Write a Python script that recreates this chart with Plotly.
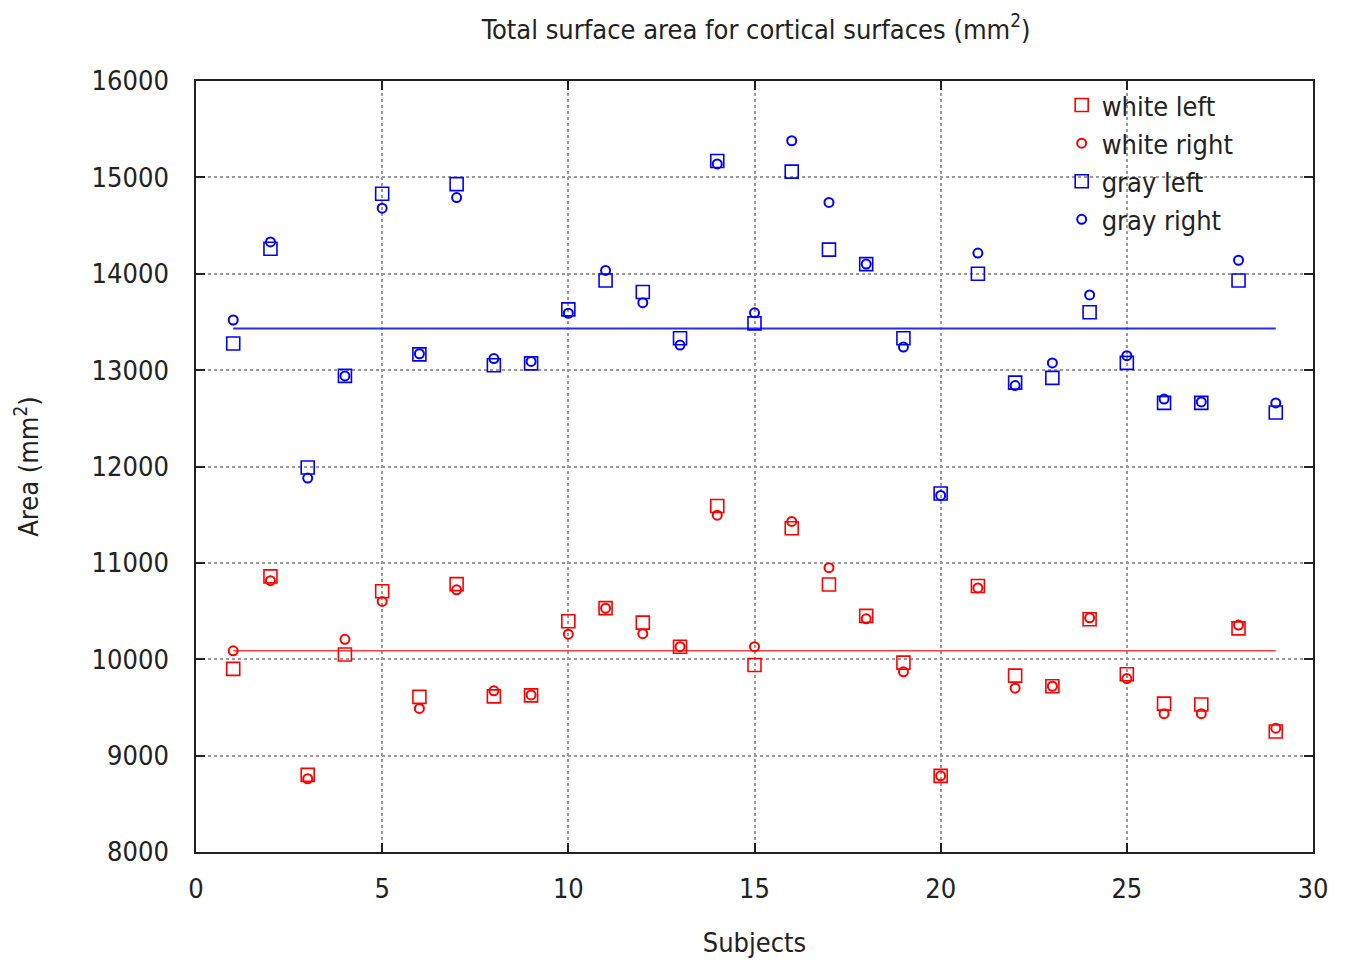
import plotly.graph_objects as go

subjects = list(range(1, 30))

white_left = [9900, 10860, 8800, 10050, 10705, 9610, 10780, 9615, 9625, 10395,
              10530, 10380, 10130, 11590, 9940, 11360, 10775, 10450, 9965, 8790,
              10760, 9830, 9720, 10415, 9845, 9540, 9530, 10320, 9250]
white_right = [10087, 10815, 8760, 10207, 10600, 9490, 10720, 9672, 9630, 10260,
               10530, 10265, 10130, 11495, 10130, 11430, 10950, 10420, 9870, 8790,
               10740, 9700, 9720, 10430, 9800, 9435, 9435, 10355, 9285]
gray_left = [13277, 14260, 11990, 12940, 14830, 13163, 14930, 13050, 13070, 13630,
             13930, 13810, 13330, 15170, 13485, 15060, 14250, 14100, 13330, 11720,
             14000, 12870, 12920, 13600, 13075, 12660, 12660, 13930, 12560]
gray_right = [13520, 14330, 11880, 12940, 14680, 13170, 14790, 13120, 13090, 13590,
              14035, 13700, 13260, 15140, 13595, 15380, 14740, 14100, 13240, 11700,
              14215, 12840, 13075, 13780, 13150, 12700, 12670, 14140, 12660]

mean_white = 10087
mean_gray = 13433
mean_x = [1, 29]

x_ticks = [0, 5, 10, 15, 20, 25, 30]
y_ticks = [8000, 9000, 10000, 11000, 12000, 13000, 14000, 15000, 16000]
y_tick_text = ["8000", "9000", "10000", "11000", "12000", "13000", "14000", "15000", "16000"]

RED = "#ff0000"
BLUE = "#0000ff"
FONT = "DejaVu Sans Condensed, DejaVu Sans"
TXT = "#222222"

fig = go.Figure()

fig.add_trace(go.Scatter(x=mean_x, y=[mean_gray, mean_gray], mode="lines",
                         line=dict(color="#2a2aff", width=2), showlegend=False,
                         hoverinfo="skip"))
fig.add_trace(go.Scatter(x=mean_x, y=[mean_white, mean_white], mode="lines",
                         line=dict(color="#ff4040", width=1.5), showlegend=False,
                         hoverinfo="skip"))

def add(name, ys, color, symbol, size, lw):
    fig.add_trace(go.Scatter(x=subjects, y=ys, mode="markers", name=name,
                             marker=dict(symbol=symbol, size=size, color=color,
                                         line=dict(color=color, width=lw))))

add("white left", white_left, RED, "square-open", 13, 1.6)
add("white right", white_right, RED, "circle-open", 9, 2)
add("gray left", gray_left, BLUE, "square-open", 13, 1.6)
add("gray right", gray_right, BLUE, "circle-open", 9, 2)

axis_common = dict(
    showline=True, linecolor=TXT, linewidth=1.5, mirror="ticks",
    ticks="inside", ticklen=9, tickwidth=1.5, tickcolor=TXT,
    showgrid=True, gridcolor="#9a9a9a", griddash="dot", gridwidth=1.5,
    zeroline=False, tickfont=dict(family=FONT, size=27, color=TXT),
)

fig.update_xaxes(range=[0, 30], tickvals=x_ticks, ticklabelstandoff=12, **axis_common,
                 title=dict(text="Subjects", font=dict(family=FONT, size=27, color=TXT),
                            standoff=30))
fig.update_yaxes(range=[8000, 16000], tickvals=y_ticks, ticktext=y_tick_text,
                 ticklabelstandoff=20, **axis_common,
                 title=dict(text="Area (mm<sup>2</sup>)", font=dict(family=FONT, size=27, color=TXT),
                            standoff=45))

fig.update_layout(
    width=1348, height=962,
    margin=dict(l=188, r=43, t=73, b=118),
    paper_bgcolor="white", plot_bgcolor="white",
    title=dict(text="Total surface area for cortical surfaces (mm<sup>2</sup>)",
               x=0.555, xanchor="center", y=0.978, yanchor="middle",
               font=dict(family=FONT, size=27, color=TXT)),
    legend=dict(x=0.775, xanchor="left", y=1.0, yanchor="top",
                bgcolor="rgba(255,255,255,0)", font=dict(family=FONT, size=27, color=TXT),
                tracegroupgap=0, itemwidth=30),
    font=dict(family=FONT),
)

fig.write_html("out.html")
